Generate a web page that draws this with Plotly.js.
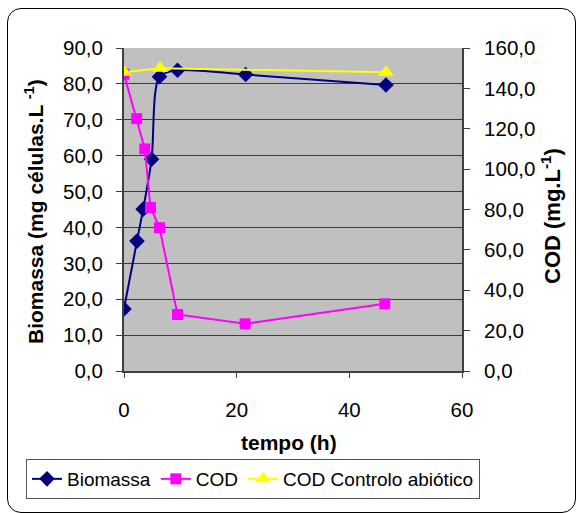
<!DOCTYPE html>
<html><head><meta charset="utf-8">
<script src="https://cdn.plot.ly/plotly-3.0.1.min.js"></script>
<style>
html,body{margin:0;padding:0;background:#fff;}
#wrap{position:relative;width:579px;height:513px;}
#chart{position:absolute;left:0;top:0;width:579px;height:513px;}
#frame{position:absolute;left:7px;top:8px;width:569px;height:505px;border:1px solid #000;border-radius:14px;pointer-events:none;box-sizing:border-box;}
</style></head>
<body><div id="wrap"><div id="frame"></div><div id="chart"></div></div>
<script>
// Data
const timeBio = [0, 2.3, 3.4, 4.9, 6.3, 9.5, 21.6, 46.5];
const biomassa = [17.3, 36.2, 45.1, 59.0, 82.0, 83.8, 82.6, 79.7];
const timeCOD = [0, 2.25, 3.7, 4.7, 6.3, 9.5, 21.5, 46.3];
const cod = [147, 125, 110, 81, 71, 28, 23.4, 33.3];
const timeCtrl = [0, 6.4, 46.5];
const codCtrl = [148, 150, 148];
const seriesNames = ['Biomassa', 'COD', 'COD Controlo abiótico'];

const F = 'Liberation Sans, Arial, sans-serif';
const traces = [
  {x: timeBio, y: biomassa, name: seriesNames[0], type: 'scatter', mode: 'lines+markers',
   line: {color: '#000080', width: 2, shape: 'spline', smoothing: 0.8},
   marker: {symbol: 'diamond', size: 12, color: '#000080'}},
  {x: timeCOD, y: cod, name: seriesNames[1], type: 'scatter', mode: 'lines+markers', yaxis: 'y2',
   line: {color: '#FF00FF', width: 2},
   marker: {symbol: 'square', size: 11, color: '#FF00FF'}},
  {x: timeCtrl, y: codCtrl, name: seriesNames[2], type: 'scatter', mode: 'lines+markers', yaxis: 'y2',
   line: {color: '#FFFF00', width: 2},
   marker: {symbol: 'triangle-up', size: 14, color: '#FFFF00'}}
];
const layout = {
  width: 579, height: 513,
  margin: {l: 124, r: 117, t: 48, b: 142},
  paper_bgcolor: 'rgba(0,0,0,0)', plot_bgcolor: '#C0C0C0',
  separators: ',.',
  font: {family: F, size: 20, color: '#000'},
  showlegend: true,
  xaxis: {range: [0, 60], tickvals: [0, 20, 40, 60], showgrid: false, zeroline: false,
    showline: true, linecolor: '#404040', linewidth: 2, ticks: 'outside', ticklen: 5, tickcolor: '#404040',
    ticklabelstandoff: 14, tickfont: {size: 20.5}},
  yaxis: {range: [0, 90], dtick: 10, tickformat: '.1f', showgrid: true, gridcolor: '#3a3a3a', gridwidth: 1,
    zeroline: false, showline: true, linecolor: '#404040', linewidth: 2, ticks: 'outside', ticklen: 6,
    tickcolor: '#404040', ticklabelstandoff: 9, tickfont: {size: 20.5}},
  yaxis2: {range: [0, 160], dtick: 20, tickformat: '.1f', overlaying: 'y', side: 'right', showgrid: false,
    zeroline: false, showline: true, linecolor: '#404040', linewidth: 2, ticks: 'outside', ticklen: 6,
    tickcolor: '#404040', ticklabelstandoff: 10, tickfont: {size: 20.5}},
  legend: {orientation: 'h', x: (26 - 124) / 338, xanchor: 'left', y: (371 - 459) / 323, yanchor: 'top',
    bgcolor: '#fff', bordercolor: '#555', borderwidth: 1, font: {size: 19}},
  annotations: [
    {text: '<b>Biomassa (mg células.L <sup>-1</sup>)</b>', xref: 'paper', yref: 'paper',
     x: (34 - 124) / 338, y: (371 - 211) / 323, xanchor: 'center', yanchor: 'middle', textangle: -90,
     showarrow: false, font: {size: 21}},
    {text: '<b>COD (mg.L<sup>-1</sup>)</b>', xref: 'paper', yref: 'paper',
     x: (551 - 124) / 338, y: (371 - 216) / 323, xanchor: 'center', yanchor: 'middle', textangle: -90,
     showarrow: false, font: {size: 22}},
    {text: '<b>tempo (h)</b>', xref: 'paper', yref: 'paper',
     x: (289 - 124) / 338, y: (371 - 443) / 323, xanchor: 'center', yanchor: 'middle',
     showarrow: false, font: {size: 21}}
  ]
};
Plotly.newPlot('chart', traces, layout, {displayModeBar: false, staticPlot: true});
</script></body></html>
